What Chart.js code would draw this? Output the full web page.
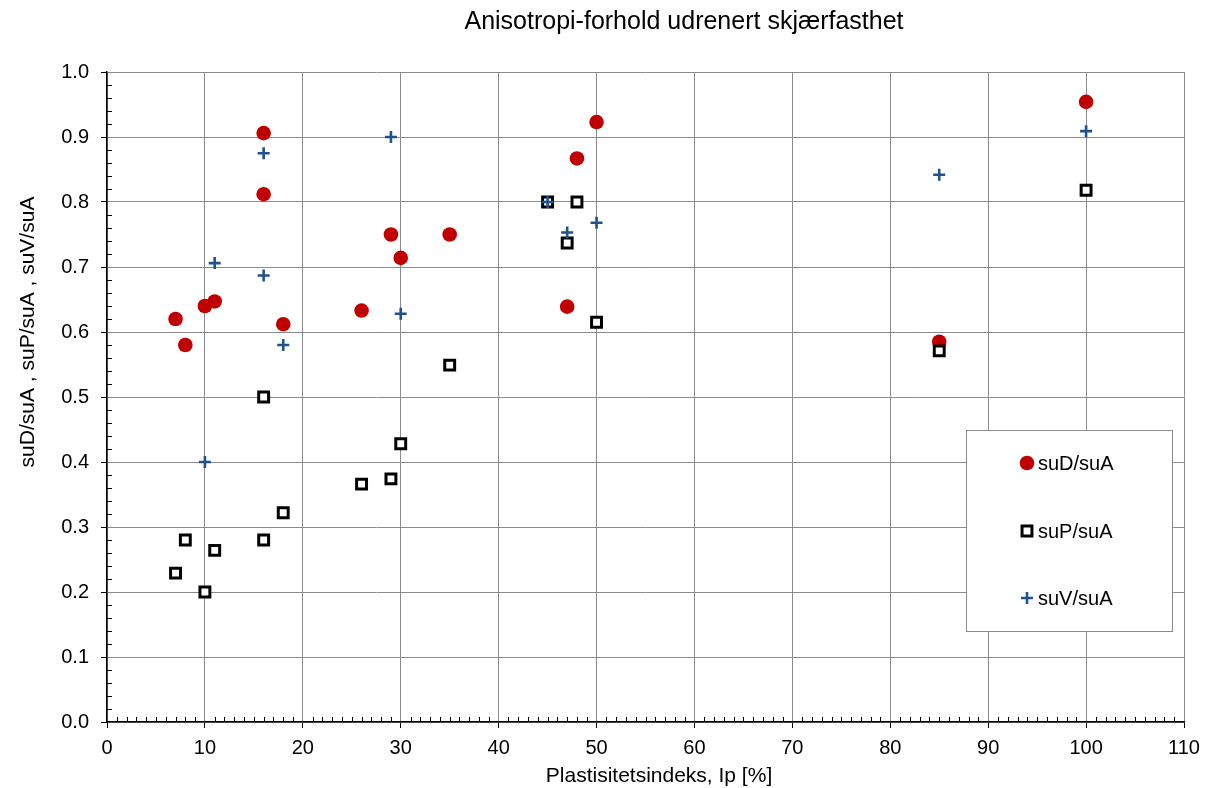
<!DOCTYPE html>
<html>
<head>
<meta charset="utf-8">
<script src="https://cdn.jsdelivr.net/npm/chart.js@4/dist/chart.umd.min.js"></script>
<style>
html,body{margin:0;padding:0;background:#fff;}
#wrap{width:1206px;height:788px;}
</style>
</head>
<body>
<div id="wrap"><canvas id="c" width="1206" height="788"></canvas></div>
<script>
const chartTitle = 'Anisotropi-forhold udrenert skjærfasthet';
const xTitle = 'Plastisitetsindeks, Ip [%]';
const yTitle = 'suD/suA , suP/suA , suV/suA';
const seriesNames = ['suD/suA', 'suP/suA', 'suV/suA'];

const ipD = [7, 8, 10, 11, 16, 16, 18, 26, 29, 30, 35, 47, 48, 50, 85, 100];
const suD = [0.62, 0.58, 0.64, 0.647, 0.906, 0.812, 0.612, 0.633, 0.75, 0.714, 0.75, 0.639, 0.867, 0.923, 0.585, 0.954];

const ipP = [7, 8, 10, 11, 16, 16, 18, 26, 29, 30, 35, 45, 47, 48, 50, 85, 100];
const suP = [0.229, 0.28, 0.20, 0.264, 0.50, 0.28, 0.322, 0.366, 0.374, 0.428, 0.549, 0.80, 0.737, 0.80, 0.615, 0.571, 0.818];

const ipV = [10, 11, 16, 16, 18, 29, 30, 45, 47, 50, 85, 100];
const suV = [0.40, 0.706, 0.875, 0.687, 0.58, 0.90, 0.628, 0.80, 0.753, 0.768, 0.842, 0.909];

const xTickLabels = ['0','10','20','30','40','50','60','70','80','90','100','110'];
const yTickLabels = ['0.0','0.1','0.2','0.3','0.4','0.5','0.6','0.7','0.8','0.9','1.0'];

const FONT = "'Liberation Sans', Arial, sans-serif";

function pts(xs, ys) { return xs.map((x, i) => ({x: x, y: ys[i]})); }

const minorTicks = {
  id: 'minorTicks',
  afterDraw(chart) {
    const ctx = chart.ctx, xs = chart.scales.x, ys = chart.scales.y;
    const a = chart.chartArea;
    ctx.save();
    ctx.strokeStyle = '#000';
    ctx.lineWidth = 1;
    ctx.beginPath();
    for (let v = 1; v < 110; v++) {
      if (v % 10 === 0) continue;
      const px = Math.round(xs.getPixelForValue(v)) + 0.5;
      ctx.moveTo(px, a.bottom);
      ctx.lineTo(px, a.bottom - 5);
    }
    for (let k = 1; k < 50; k++) {
      if (k % 5 === 0) continue;
      const py = Math.round(ys.getPixelForValue(k * 0.02)) + 0.5;
      ctx.moveTo(a.left, py);
      ctx.lineTo(a.left + 5, py);
    }
    ctx.stroke();
    ctx.restore();
  }
};

const texts = {
  id: 'texts',
  afterDraw(chart) {
    const ctx = chart.ctx;
    ctx.save();
    ctx.fillStyle = '#000';
    ctx.textAlign = 'center';
    ctx.textBaseline = 'alphabetic';
    ctx.font = '25px ' + FONT;
    ctx.fillText(chartTitle, 684, 29);
    ctx.font = '21px ' + FONT;
    ctx.fillText(xTitle, 659, 782);
    ctx.translate(34, 332);
    ctx.rotate(-Math.PI / 2);
    ctx.fillText(yTitle, 0, 0);
    ctx.restore();
  }
};

const legendBox = {
  id: 'legendBox',
  afterDraw(chart) {
    const ctx = chart.ctx;
    ctx.save();
    ctx.fillStyle = '#fff';
    ctx.fillRect(966, 430, 206, 201);
    ctx.strokeStyle = '#8c8c8c';
    ctx.lineWidth = 1;
    ctx.strokeRect(966.5, 430.5, 206, 201);
    const rows = [463, 531, 598];
    chart.data.datasets.forEach((ds, i) => {
      const y = rows[i];
      ctx.fillStyle = ds.pointBackgroundColor;
      ctx.strokeStyle = ds.pointBorderColor;
      ctx.lineWidth = ds.pointBorderWidth;
      Chart.helpers.drawPoint(ctx, {
        pointStyle: ds.pointStyle, rotation: 0,
        radius: ds.pointRadius, borderWidth: ds.pointBorderWidth
      }, 1027, y);
      ctx.fillStyle = '#000';
      ctx.font = '20px ' + FONT;
      ctx.textAlign = 'left';
      ctx.textBaseline = 'alphabetic';
      ctx.fillText(ds.label, 1038, y + 7);
    });
    ctx.restore();
  }
};

new Chart(document.getElementById('c'), {
  type: 'scatter',
  data: {
    datasets: [
      {
        label: seriesNames[0], data: pts(ipD, suD), order: 3,
        pointStyle: 'circle', pointRadius: 7.3, pointHoverRadius: 7.3,
        pointBackgroundColor: '#c00000', pointBorderColor: '#c00000', pointBorderWidth: 0,
        backgroundColor: '#c00000', borderColor: '#c00000', borderWidth: 0
      },
      {
        label: seriesNames[1], data: pts(ipP, suP), order: 2,
        pointStyle: 'rect', pointRadius: 7, pointHoverRadius: 7,
        pointBackgroundColor: '#ffffff', pointBorderColor: '#000000', pointBorderWidth: 3,
        backgroundColor: '#ffffff', borderColor: '#000000', borderWidth: 3
      },
      {
        label: seriesNames[2], data: pts(ipV, suV), order: 1,
        pointStyle: 'cross', pointRadius: 6, pointHoverRadius: 6,
        pointBackgroundColor: '#24508f', pointBorderColor: '#24508f', pointBorderWidth: 2.6,
        backgroundColor: '#24508f', borderColor: '#24508f', borderWidth: 2.6
      }
    ]
  },
  options: {
    responsive: false,
    devicePixelRatio: 1,
    animation: false,
    layout: { padding: { top: 72, right: 22, bottom: 0, left: 0 } },
    plugins: {
      legend: { display: false },
      title: { display: false },
      tooltip: { enabled: false }
    },
    scales: {
      x: {
        type: 'linear', min: 0, max: 110,
        afterFit(s) { s.height = 66; s.paddingRight = 0; s.paddingLeft = 0; },
        afterBuildTicks(s) { s.ticks = xTickLabels.map(t => ({ value: Number(t) })); },
        ticks: {
          color: '#000', font: { family: FONT, size: 20 }, padding: 8,
          maxRotation: 0, autoSkip: false,
          callback: (v, i) => xTickLabels[i]
        },
        grid: { color: '#8c8c8c', lineWidth: 1, tickColor: '#000', tickLength: 6, drawTicks: true },
        border: { color: '#000', width: 1.5 }
      },
      y: {
        type: 'linear', min: 0, max: 1,
        afterFit(s) { s.width = 107; s.paddingTop = 0; s.paddingBottom = 0; },
        afterBuildTicks(s) { s.ticks = yTickLabels.map(t => ({ value: Number(t) })); },
        ticks: {
          color: '#000', font: { family: FONT, size: 20 }, padding: 12,
          autoSkip: false,
          callback: (v, i) => yTickLabels[i]
        },
        grid: { color: '#8c8c8c', lineWidth: 1, tickColor: '#000', tickLength: 6, drawTicks: true },
        border: { color: '#000', width: 1.5 }
      }
    }
  },
  plugins: [minorTicks, texts, legendBox]
});
</script>
</body>
</html>
